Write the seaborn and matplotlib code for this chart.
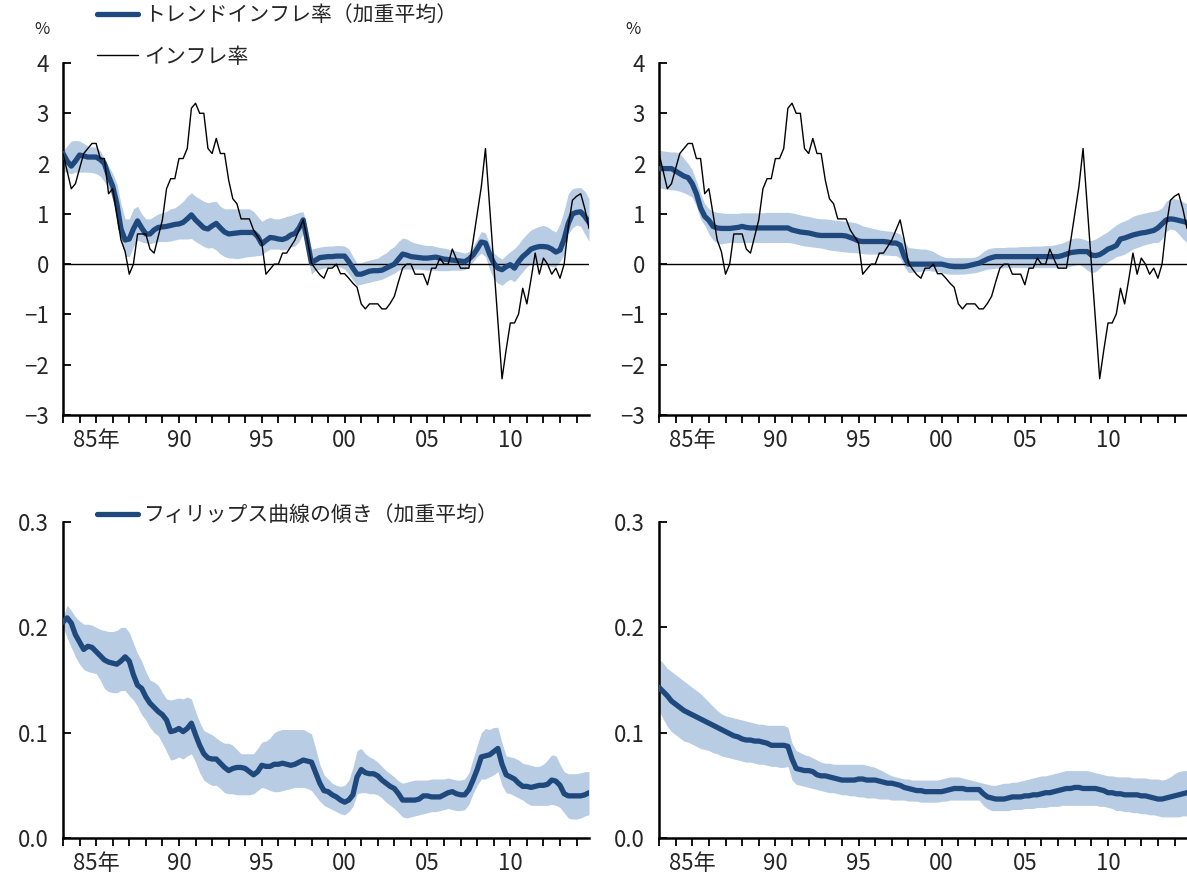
import numpy as np
import pandas as pd
import matplotlib
matplotlib.use("Agg")
import matplotlib.pyplot as plt
import seaborn as sns
from matplotlib.lines import Line2D

# ---------------- data (quarterly, 1983Q1 - 2014Q4) ----------------
start_year = 1983

inflation = [
    2.2, 1.85, 1.5, 1.6,   1.9, 2.2, 2.3, 2.4,    2.4, 2.1, 2.1, 1.4,    1.5, 1.0, 0.48, 0.25,
    -0.2, 0.0, 0.6, 0.6,   0.6, 0.3, 0.22, 0.55,  0.88, 1.5, 1.7, 1.7,   2.1, 2.1, 2.3, 3.1,
    3.2, 3.0, 3.0, 2.3,    2.2, 2.5, 2.2, 2.2,    1.67, 1.3, 1.2, 0.9,   0.9, 0.9, 0.68, 0.55,
    0.42, -0.2, -0.1, 0.0, 0.0, 0.22, 0.22, 0.35, 0.48, 0.68, 0.88, 0.48, 0.02, -0.1, -0.21, -0.28,
    -0.08, -0.08, 0.0, -0.19, -0.19, -0.28, -0.38, -0.46, -0.79, -0.89, -0.79, -0.79, -0.79, -0.89, -0.89, -0.78,
    -0.64, -0.35, -0.08, 0.0, 0.0, -0.2, -0.2, -0.2, -0.41, -0.08, -0.08, 0.12, 0.0, 0.0, 0.3, 0.1,
    -0.08, -0.08, -0.08, 0.45, 1.0, 1.54, 2.3, 1.15, 0.0, -1.15, -2.28, -1.7, -1.17, -1.17, -0.99, -0.48,
    -0.79, -0.3, 0.22, -0.2, 0.12, 0.0, -0.2, -0.08, -0.28, 0.0, 0.75, 1.27, 1.35, 1.4, 1.1, 0.71,
]

trend_left = [
    2.2, 2.05, 1.95, 2.05,  2.17, 2.15, 2.13, 2.13,  2.13, 2.08, 2.0, 1.75,  1.55, 1.2, 0.7, 0.48,
    0.5, 0.7, 0.86, 0.72,   0.6, 0.6, 0.68, 0.73,    0.74, 0.75, 0.77, 0.79,  0.8, 0.83, 0.9, 0.98,
    0.88, 0.8, 0.72, 0.7,   0.76, 0.81, 0.72, 0.64,  0.6, 0.61, 0.62, 0.63,   0.63, 0.63, 0.63, 0.55,
    0.4, 0.47, 0.53, 0.52,  0.5, 0.49, 0.52, 0.58,   0.61, 0.72, 0.88, 0.45,  0.02, 0.08, 0.13, 0.14,
    0.15, 0.15, 0.16, 0.16, 0.16, 0.05, -0.08, -0.2, -0.2, -0.17, -0.14, -0.13, -0.13, -0.12, -0.08, -0.04,
    0.0, 0.1, 0.2, 0.18,    0.15, 0.14, 0.13, 0.12,  0.12, 0.13, 0.14, 0.12,  0.1, 0.09, 0.08, 0.07,
    0.06, 0.05, 0.1, 0.18,  0.3, 0.44, 0.42, 0.2,    0.02, -0.08, -0.11, -0.05, -0.01, -0.08, 0.05, 0.15,
    0.22, 0.3, 0.33, 0.35,  0.35, 0.34, 0.3, 0.24,   0.28, 0.5, 0.81, 1.0,    1.03, 1.04, 0.95, 0.83,
]
trend_left_hi = [
    2.25, 2.35, 2.45, 2.46, 2.45, 2.4, 2.35, 2.33,   2.33, 2.25, 2.1, 1.95,   1.8, 1.6, 1.2, 0.9,
    0.9, 1.1, 1.15, 1.0,    0.9, 0.9, 0.95, 1.0,     1.02, 1.05, 1.1, 1.12,   1.18, 1.25, 1.35, 1.42,
    1.35, 1.3, 1.25, 1.22,  1.24, 1.25, 1.15, 1.1,   1.1, 1.1, 1.1, 1.1,      1.1, 1.1, 1.05, 0.95,
    0.85, 0.9, 0.93, 0.9,   0.9, 0.92, 0.95, 0.97,   1.0, 1.03, 1.04, 0.7,    0.3, 0.32, 0.34, 0.35,
    0.36, 0.36, 0.37, 0.37, 0.36, 0.3, 0.15, 0.02,   0.03, 0.06, 0.08, 0.1,   0.12, 0.18, 0.22, 0.3,
    0.35, 0.45, 0.52, 0.5,  0.45, 0.42, 0.4, 0.38,   0.37, 0.37, 0.35, 0.33,  0.32, 0.3, 0.28, 0.26,
    0.24, 0.22, 0.25, 0.35, 0.5, 0.65, 0.62, 0.4,    0.22, 0.15, 0.1, 0.18,   0.25, 0.31, 0.4, 0.51,
    0.6, 0.68, 0.72, 0.75,  0.77, 0.74, 0.68, 0.64,  0.8, 1.07, 1.4, 1.5,     1.52, 1.52, 1.45, 1.3,
]
trend_left_lo = [
    1.85, 1.82, 1.8, 1.83,  1.83, 1.83, 1.83, 1.82,  1.8, 1.75, 1.64, 1.5,    1.3, 0.9, 0.48, 0.15,
    0.15, 0.35, 0.48, 0.44, 0.42, 0.41, 0.43, 0.45,  0.45, 0.45, 0.46, 0.48,  0.5, 0.5, 0.5, 0.51,
    0.45, 0.4, 0.35, 0.32,  0.33, 0.28, 0.2, 0.15,   0.12, 0.12, 0.11, 0.12,  0.14, 0.15, 0.16, 0.17,
    0.18, 0.25, 0.3, 0.3,   0.3, 0.28, 0.3, 0.34,    0.36, 0.45, 0.62, 0.2,   -0.2, -0.12, -0.1, -0.08,
    -0.06, -0.05, -0.05, -0.06, -0.1, -0.2, -0.32, -0.42, -0.4, -0.38, -0.36, -0.34, -0.32, -0.3, -0.26, -0.22,
    -0.18, -0.12, -0.1, -0.1, -0.1, -0.1, -0.1, -0.11, -0.12, -0.12, -0.12, -0.13, -0.13, -0.13, -0.12, -0.12,
    -0.12, -0.11, -0.05, 0.05, 0.15, 0.22, 0.15, -0.1, -0.3, -0.38, -0.42, -0.35, -0.3, -0.35, -0.25, -0.15,
    -0.05, 0.0, 0.01, 0.01, 0.01, -0.02, -0.05, -0.05, 0.05, 0.2, 0.6, 0.72,  0.78, 0.75, 0.6, 0.45,
]

trend_right = [
    1.9, 1.9, 1.9, 1.9,     1.85, 1.8, 1.75, 1.72,   1.6, 1.4, 1.12, 0.95,    0.87, 0.75, 0.72, 0.71,
    0.71, 0.71, 0.72, 0.73, 0.75, 0.73, 0.72, 0.72,  0.72, 0.72, 0.72, 0.72,  0.72, 0.72, 0.72, 0.72,
    0.68, 0.66, 0.64, 0.63, 0.62, 0.6, 0.58, 0.57,   0.57, 0.57, 0.57, 0.57,  0.57, 0.56, 0.53, 0.5,
    0.46, 0.45, 0.45, 0.45, 0.45, 0.45, 0.45, 0.44,  0.42, 0.42, 0.38, 0.15,  0.0, 0.0, 0.0, 0.0,
    0.0, 0.0, 0.0, 0.0,     0.0, -0.02, -0.04, -0.05, -0.05, -0.05, -0.04, -0.02, 0.0, 0.02, 0.06, 0.1,
    0.13, 0.15, 0.15, 0.15, 0.15, 0.15, 0.15, 0.15,  0.15, 0.15, 0.15, 0.15,  0.15, 0.15, 0.15, 0.15,
    0.15, 0.17, 0.2, 0.23,  0.24, 0.25, 0.25, 0.25,  0.18, 0.17, 0.19, 0.24,  0.3, 0.33, 0.37, 0.5,
    0.52, 0.55, 0.58, 0.6,  0.62, 0.63, 0.65, 0.67,  0.72, 0.8, 0.88, 0.9,    0.89, 0.87, 0.85, 0.83,
]
trend_right_hi = [
    2.27, 2.25, 2.24, 2.23, 2.23, 2.2, 2.1, 2.0,     1.87, 1.65, 1.4, 1.2,    1.1, 1.05, 1.03, 1.02,
    1.01, 1.01, 1.01, 1.01, 1.02, 1.02, 1.02, 1.02,  1.02, 1.02, 1.03, 1.03,  1.03, 1.03, 1.03, 1.03,
    1.02, 1.0, 0.98, 0.96,  0.95, 0.93, 0.91, 0.9,   0.9, 0.89, 0.88, 0.87,   0.86, 0.85, 0.84, 0.83,
    0.8, 0.76, 0.74, 0.72,  0.7, 0.68, 0.67, 0.66,   0.65, 0.63, 0.6, 0.45,   0.33, 0.32, 0.31, 0.3,
    0.3, 0.28, 0.25, 0.2,   0.16, 0.13, 0.13, 0.13,  0.13, 0.13, 0.13, 0.13,  0.14, 0.18, 0.25, 0.3,
    0.32, 0.33, 0.33, 0.33, 0.34, 0.34, 0.34, 0.35,  0.35, 0.35, 0.36, 0.36,  0.36, 0.37, 0.37, 0.38,
    0.4, 0.42, 0.46, 0.5,   0.52, 0.52, 0.5, 0.47,   0.47, 0.5, 0.55, 0.6,    0.65, 0.72, 0.78, 0.83,
    0.86, 0.9, 0.95, 0.98,  1.0, 1.02, 1.04, 1.05,   1.07, 1.12, 1.25, 1.3,   1.3, 1.28, 1.24, 1.2,
]
trend_right_lo = [
    1.52, 1.5, 1.49, 1.48,  1.47, 1.45, 1.42, 1.38,  1.33, 1.15, 0.9, 0.77,   0.6, 0.48, 0.42, 0.4,
    0.42, 0.43, 0.43, 0.43, 0.43, 0.43, 0.43, 0.43,  0.43, 0.43, 0.43, 0.43,  0.43, 0.43, 0.43, 0.43,
    0.42, 0.4, 0.38, 0.36,  0.35, 0.34, 0.33, 0.32,  0.3, 0.28, 0.27, 0.26,   0.25, 0.24, 0.23, 0.23,
    0.22, 0.21, 0.2, 0.2,   0.2, 0.19, 0.18, 0.18,   0.17, 0.17, 0.12, -0.05, -0.17, -0.16, -0.15, -0.14,
    -0.13, -0.13, -0.14, -0.15, -0.17, -0.19, -0.2, -0.2, -0.2, -0.2, -0.19, -0.18, -0.17, -0.15, -0.12, -0.1,
    -0.09, -0.08, -0.08, -0.07, -0.07, -0.07, -0.07, -0.07, -0.07, -0.07, -0.07, -0.07, -0.07, -0.07, -0.07, -0.07,
    -0.07, -0.07, -0.06, -0.04, -0.02, 0.0, -0.05, -0.12, -0.17, -0.15, -0.08, 0.0, 0.05, 0.1, 0.15, 0.17,
    0.2, 0.25, 0.3, 0.33,   0.36, 0.39, 0.41, 0.43,  0.43, 0.5, 0.65, 0.7,    0.68, 0.6, 0.5, 0.43,
]

slope_left = [
    0.205, 0.209, 0.204, 0.193, 0.186, 0.179, 0.182, 0.181, 0.177, 0.173, 0.169, 0.167, 0.166, 0.165, 0.168, 0.172,
    0.168, 0.155, 0.145, 0.142, 0.134, 0.128, 0.124, 0.12,  0.117, 0.112, 0.101, 0.102, 0.104, 0.101, 0.104, 0.109,
    0.098, 0.088, 0.08, 0.076,  0.075, 0.075, 0.071, 0.067, 0.064, 0.066, 0.067, 0.067, 0.066, 0.063, 0.06, 0.063,
    0.069, 0.068, 0.068, 0.07,  0.07, 0.071, 0.07, 0.069,   0.07, 0.072, 0.074, 0.073,  0.072, 0.062, 0.052, 0.045,
    0.044, 0.041, 0.039, 0.036, 0.034, 0.036, 0.041, 0.058, 0.065, 0.062, 0.061, 0.061, 0.059, 0.055, 0.052, 0.049,
    0.047, 0.042, 0.036, 0.036, 0.036, 0.036, 0.037, 0.04,  0.04, 0.039, 0.039, 0.039,  0.041, 0.043, 0.044, 0.042,
    0.041, 0.041, 0.046, 0.055, 0.065, 0.077, 0.078, 0.079, 0.082, 0.085, 0.07, 0.06,   0.058, 0.056, 0.052, 0.049,
    0.049, 0.048, 0.049, 0.05,  0.05, 0.051, 0.055, 0.054,  0.05, 0.042, 0.04, 0.04,    0.04, 0.04, 0.041, 0.043,
]
slope_left_hi = [
    0.21, 0.221, 0.216, 0.21,   0.206, 0.203, 0.203, 0.202, 0.2, 0.198, 0.197, 0.196,   0.196, 0.197, 0.2, 0.2,
    0.195, 0.185, 0.175, 0.168, 0.158, 0.15, 0.148, 0.145,  0.138, 0.132, 0.131, 0.132, 0.133, 0.132, 0.134, 0.132,
    0.12, 0.11, 0.102, 0.1,     0.098, 0.095, 0.092, 0.09,  0.09, 0.088, 0.084, 0.08,   0.08, 0.08, 0.08, 0.085,
    0.091, 0.092, 0.095, 0.1,   0.102, 0.103, 0.103, 0.103, 0.103, 0.103, 0.103, 0.101, 0.099, 0.085, 0.07, 0.06,
    0.056, 0.052, 0.05, 0.049,  0.05, 0.055, 0.067, 0.083,  0.085, 0.08, 0.077, 0.075,  0.072, 0.068, 0.064, 0.061,
    0.058, 0.054, 0.052, 0.053, 0.054, 0.055, 0.055, 0.055, 0.055, 0.056, 0.056, 0.056, 0.056, 0.057, 0.056, 0.055,
    0.055, 0.056, 0.062, 0.075, 0.088, 0.1, 0.104, 0.103,   0.105, 0.105, 0.09, 0.078,  0.077, 0.076, 0.074, 0.071,
    0.07, 0.069, 0.068, 0.068,  0.07, 0.074, 0.079, 0.078,  0.07, 0.063, 0.061, 0.061,  0.061, 0.062, 0.063, 0.063,
]
slope_left_lo = [
    0.2, 0.19, 0.181, 0.172,    0.165, 0.16, 0.158, 0.157,  0.156, 0.15, 0.142, 0.139,  0.138, 0.138, 0.14, 0.14,
    0.135, 0.131, 0.125, 0.117, 0.112, 0.105, 0.1, 0.097,   0.09, 0.082, 0.074, 0.075,  0.077, 0.075, 0.078, 0.08,
    0.072, 0.062, 0.055, 0.052, 0.05, 0.05, 0.047, 0.043,   0.042, 0.042, 0.041, 0.041, 0.041, 0.041, 0.042, 0.045,
    0.048, 0.047, 0.045, 0.044, 0.044, 0.045, 0.046, 0.047, 0.048, 0.048, 0.048, 0.047, 0.045, 0.04, 0.035, 0.031,
    0.029, 0.027, 0.025, 0.023, 0.022, 0.025, 0.03, 0.042,  0.043, 0.043, 0.042, 0.042, 0.041, 0.038, 0.034, 0.031,
    0.028, 0.024, 0.02, 0.019,  0.02, 0.021, 0.022, 0.023,  0.024, 0.025, 0.025, 0.026, 0.027, 0.028, 0.027, 0.026,
    0.026, 0.027, 0.032, 0.042, 0.05, 0.056, 0.056, 0.058,  0.06, 0.063, 0.05, 0.043,   0.042, 0.04, 0.038, 0.036,
    0.033, 0.031, 0.031, 0.031, 0.031, 0.031, 0.032, 0.031, 0.029, 0.024, 0.019, 0.018, 0.018, 0.019, 0.021, 0.022,
]

slope_right = [
    0.143, 0.139, 0.135, 0.13,  0.127, 0.124, 0.121, 0.119, 0.117, 0.115, 0.113, 0.111, 0.109, 0.107, 0.105, 0.103,
    0.101, 0.099, 0.097, 0.096, 0.094, 0.093, 0.093, 0.092, 0.092, 0.091, 0.09, 0.088,  0.088, 0.088, 0.088, 0.087,
    0.075, 0.066, 0.065, 0.064, 0.064, 0.063, 0.06, 0.059,  0.059, 0.058, 0.057, 0.056, 0.055, 0.055, 0.055, 0.055,
    0.056, 0.056, 0.055, 0.055, 0.055, 0.054, 0.053, 0.052, 0.052, 0.051, 0.05, 0.048,  0.047, 0.046, 0.045, 0.045,
    0.044, 0.044, 0.044, 0.044, 0.044, 0.045, 0.046, 0.047, 0.047, 0.047, 0.046, 0.046, 0.046, 0.046, 0.042, 0.039,
    0.038, 0.037, 0.037, 0.037, 0.038, 0.039, 0.039, 0.039, 0.04, 0.04, 0.041, 0.041,   0.042, 0.043, 0.043, 0.044,
    0.045, 0.046, 0.047, 0.047, 0.048, 0.048, 0.047, 0.047, 0.047, 0.047, 0.046, 0.045, 0.043, 0.043, 0.042, 0.042,
    0.041, 0.041, 0.041, 0.041, 0.04, 0.04, 0.039, 0.038,   0.037, 0.037, 0.038, 0.039, 0.04, 0.041, 0.042, 0.043,
]
slope_right_hi = [
    0.17, 0.166, 0.161, 0.158, 0.155, 0.152, 0.149, 0.146, 0.143, 0.14, 0.137, 0.133,  0.129, 0.125, 0.121, 0.118,
    0.116, 0.115, 0.114, 0.113, 0.112, 0.111, 0.11, 0.109, 0.108, 0.108, 0.107, 0.107, 0.107, 0.107, 0.107, 0.105,
    0.09, 0.083, 0.081, 0.079, 0.078, 0.076, 0.074, 0.072,  0.071, 0.071, 0.07, 0.07,   0.07, 0.07, 0.07, 0.07,
    0.07, 0.07, 0.069, 0.068,  0.067, 0.065, 0.063, 0.061,  0.059, 0.058, 0.057, 0.056, 0.056, 0.055, 0.055, 0.055,
    0.055, 0.055, 0.055, 0.055, 0.056, 0.057, 0.058, 0.058, 0.058, 0.057, 0.056, 0.055, 0.054, 0.053, 0.052, 0.051,
    0.05, 0.05, 0.051, 0.052,  0.052, 0.053, 0.053, 0.054,  0.055, 0.056, 0.057, 0.058, 0.059, 0.059, 0.06, 0.061,
    0.062, 0.063, 0.064, 0.064, 0.064, 0.064, 0.064, 0.064, 0.063, 0.062, 0.061, 0.06,  0.059, 0.059, 0.058, 0.058,
    0.058, 0.058, 0.057, 0.057, 0.057, 0.057, 0.056, 0.056, 0.056, 0.055, 0.056, 0.058, 0.061, 0.063, 0.064, 0.064,
]
slope_right_lo = [
    0.121, 0.113, 0.106, 0.101, 0.098, 0.095, 0.092, 0.091, 0.089, 0.087, 0.085, 0.084, 0.083, 0.081, 0.08, 0.078,
    0.077, 0.076, 0.075, 0.074, 0.073, 0.072, 0.072, 0.071, 0.07, 0.07, 0.069, 0.068,   0.068, 0.067, 0.067, 0.068,
    0.055, 0.051, 0.05, 0.049,  0.048, 0.047, 0.046, 0.045, 0.044, 0.043, 0.043, 0.042, 0.041, 0.041, 0.04, 0.04,
    0.039, 0.039, 0.038, 0.038, 0.038, 0.037, 0.037, 0.037, 0.036, 0.036, 0.036, 0.036, 0.035, 0.035, 0.035, 0.034,
    0.034, 0.034, 0.034, 0.034, 0.035, 0.035, 0.036, 0.036, 0.036, 0.036, 0.036, 0.036, 0.036, 0.036, 0.031, 0.028,
    0.026, 0.026, 0.026, 0.026, 0.026, 0.027, 0.027, 0.027, 0.028, 0.028, 0.028, 0.029, 0.029, 0.029, 0.03, 0.03,
    0.03, 0.031, 0.031, 0.031,  0.031, 0.031, 0.031, 0.031, 0.031, 0.031, 0.03, 0.03,   0.029, 0.028, 0.026, 0.026,
    0.025, 0.025, 0.024, 0.024, 0.023, 0.023, 0.022, 0.022, 0.021, 0.02, 0.02, 0.02,    0.02, 0.02, 0.021, 0.021,
]

year_ticks = list(range(1983, 2015))
label_years = [1985, 1990, 1995, 2000, 2005, 2010]
label_text = ["85年", "90", "95", "00", "05", "10"]
legend_trend = "トレンドインフレ率（加重平均）"
legend_infl = "インフレ率"
legend_slope = "フィリップス曲線の傾き（加重平均）"

# ---------------- style ----------------
sns.set_style("ticks")
plt.rcParams["font.family"] = ["Noto Sans CJK JP", "DejaVu Sans"]
plt.rcParams["axes.unicode_minus"] = True

DARK = "#1F497D"
BAND = "#B8CCE4"
TICK_FS = 16
LEG_FS = 15

quarters = start_year + np.arange(len(inflation)) / 4.0

W, H = 1187, 881
fig = plt.figure(figsize=(W / 100, H / 100), dpi=100)


def px_axes(x0, x1, ytop, ybot):
    return fig.add_axes([x0 / W, 1 - ybot / H, (x1 - x0) / W, (ybot - ytop) / H])


ax_tl = px_axes(63, 589, 63, 415)
ax_tr = px_axes(659, 1187, 63, 415)
ax_bl = px_axes(63, 589, 522, 838)
ax_br = px_axes(659, 1187, 522, 838)


def style_axes(ax, ylim, yticks, ylabels):
    ax.set_xlim(quarters[0], quarters[-1])
    ax.set_ylim(*ylim)
    ax.set_yticks(yticks)
    ax.set_yticklabels(ylabels, fontsize=TICK_FS)
    ax.set_xticks(year_ticks, minor=True)
    ax.set_xticks(label_years)
    ax.set_xticklabels(label_text, fontsize=TICK_FS)
    ax.tick_params(axis="x", which="both", direction="out", length=6, width=1.3,
                   pad=4, color="black")
    ax.tick_params(axis="y", direction="in", length=6, width=1.3, pad=10, color="black")
    for s in ["top", "right"]:
        ax.spines[s].set_visible(False)
    for s in ["left", "bottom"]:
        ax.spines[s].set_linewidth(1.8)
        ax.spines[s].set_color("black")
    ax.set_xlabel("")
    ax.set_ylabel("")


def draw_top(ax, trend, lo, hi):
    ax.fill_between(quarters, lo, hi, color=BAND, lw=0, zorder=1)
    ax.axhline(0, color="black", lw=1.0, zorder=2)
    sns.lineplot(x=quarters, y=trend, ax=ax, color=DARK, lw=3.8, estimator=None,
                 zorder=3)
    sns.lineplot(x=quarters, y=inflation, ax=ax, color="black", lw=1.0,
                 estimator=None, zorder=4)
    style_axes(ax, (-3, 4), list(range(-3, 5)),
               [f"{v}".replace("-", "\u2212") for v in range(-3, 5)])


def draw_bottom(ax, slope, lo, hi):
    ax.fill_between(quarters, lo, hi, color=BAND, lw=0, zorder=1)
    sns.lineplot(x=quarters, y=slope, ax=ax, color=DARK, lw=3.8, estimator=None,
                 zorder=3)
    style_axes(ax, (0, 0.3), [0.0, 0.1, 0.2, 0.3], ["0.0", "0.1", "0.2", "0.3"])


draw_top(ax_tl, trend_left, trend_left_lo, trend_left_hi)
draw_top(ax_tr, trend_right, trend_right_lo, trend_right_hi)
draw_bottom(ax_bl, slope_left, slope_left_lo, slope_left_hi)
draw_bottom(ax_br, slope_right, slope_right_lo, slope_right_hi)

# percent labels
fig.text(42 / W, 1 - 30 / H, "%", fontsize=12, ha="center", va="center")
fig.text(633 / W, 1 - 30 / H, "%", fontsize=12, ha="center", va="center")

# legends
h_trend = Line2D([], [], color=DARK, lw=3.8)
h_infl = Line2D([], [], color="black", lw=1.0)
leg1 = ax_tl.legend([h_trend, h_infl], [legend_trend, legend_infl],
                    loc="upper left", bbox_to_anchor=(97 / W, 1 - 4 / H),
                    bbox_transform=fig.transFigure, frameon=False, fontsize=LEG_FS,
                    borderpad=0, borderaxespad=0, handlelength=1.95,
                    handletextpad=0.3, labelspacing=0.95)
h_slope = Line2D([], [], color=DARK, lw=3.8)
leg2 = ax_bl.legend([h_slope], [legend_slope],
                    loc="upper left", bbox_to_anchor=(97 / W, 1 - 504 / H),
                    bbox_transform=fig.transFigure, frameon=False, fontsize=LEG_FS,
                    borderpad=0, borderaxespad=0, handlelength=1.95,
                    handletextpad=0.3)

fig.savefig("out.png", dpi=100)
